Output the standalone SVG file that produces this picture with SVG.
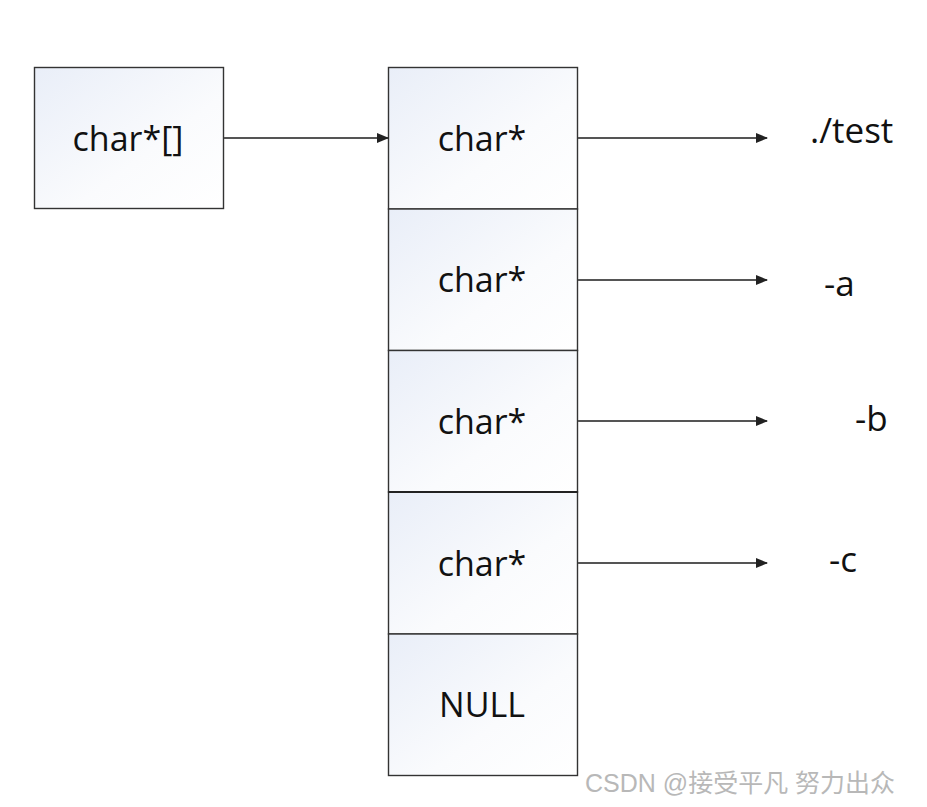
<svg xmlns="http://www.w3.org/2000/svg" width="927" height="807" viewBox="0 0 927 807">
<defs>
<linearGradient id="g" x1="0" y1="0" x2="1" y2="1">
<stop offset="0" stop-color="#e9eef8"/>
<stop offset="0.6" stop-color="#fafbfd"/>
<stop offset="1" stop-color="#ffffff"/>
</linearGradient>
<marker id="ah" markerWidth="12" markerHeight="10" refX="11" refY="5" orient="auto" markerUnits="userSpaceOnUse">
<path d="M0,0 L12,5 L0,10 Z" fill="#222"/>
</marker>
<style>
.box{fill:url(#g);stroke:#333;stroke-width:1.4}
.t{font-family:"Open Sans","Liberation Sans",sans-serif;font-size:34px;fill:#111;text-anchor:middle}
.l{font-family:"Open Sans","Liberation Sans",sans-serif;font-size:35px;fill:#111}
.c{stroke:#555;stroke-width:2;fill:none;marker-end:url(#ah)}
</style>
</defs>
<rect width="927" height="807" fill="#fff"/>
<g id="argv"><rect class="box" x="34.5" y="67.5" width="189" height="141"/><text class="t" x="128" y="151">char*[]</text></g>
<g id="p0"><rect class="box" x="388.5" y="67.5" width="189" height="141.5"/><text class="t" x="482" y="151">char*</text></g>
<g id="p1"><rect class="box" x="388.5" y="209" width="189" height="141.5"/><text class="t" x="482" y="292">char*</text></g>
<g id="p2"><rect class="box" x="388.5" y="350.5" width="189" height="141.5"/><text class="t" x="482" y="434">char*</text></g>
<g id="p3"><rect class="box" x="388.5" y="492" width="189" height="142"/><text class="t" x="482" y="576">char*</text></g>
<g id="p4"><rect class="box" x="388.5" y="634" width="189" height="141.5"/><text class="t" x="482" y="717">NULL</text></g>
<line x1="388.5" y1="492" x2="577.5" y2="492" stroke="#222" stroke-width="2"/>
<g id="s0"><text class="l" x="810" y="143">./test</text></g>
<g id="s1"><text class="l" x="824" y="296">-a</text></g>
<g id="s2"><text class="l" x="855" y="431">-b</text></g>
<g id="s3"><text class="l" x="829" y="572">-c</text></g>
<g id="connectors">
<line class="c" x1="224" y1="138" x2="388" y2="138"/>
<line class="c" x1="578" y1="138" x2="767" y2="138"/>
<line class="c" x1="578" y1="280" x2="767" y2="280"/>
<line class="c" x1="578" y1="421" x2="767" y2="421"/>
<line class="c" x1="578" y1="563" x2="767" y2="563"/>
</g>
<text x="585" y="792" font-family="Liberation Sans,'Noto Sans CJK SC',sans-serif" font-size="25" fill="#b8b8b8">CSDN @接受平凡 努力出众</text>
</svg>
